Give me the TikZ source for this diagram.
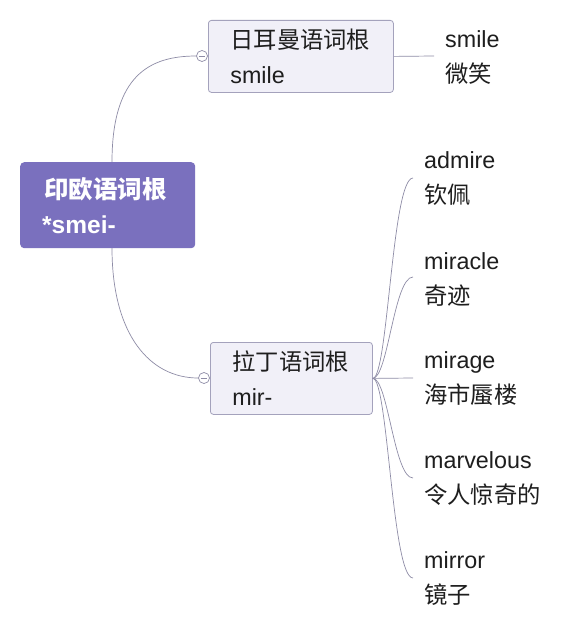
\documentclass[tikz,border=0pt]{standalone}
\usepackage{fontspec}
\setmainfont{Liberation Sans}
\newfontfamily\cjk{Noto Sans CJK SC}
\definecolor{rootfill}{HTML}{7A70BE}
\definecolor{boxfill}{HTML}{F1F0F8}
\definecolor{boxline}{HTML}{A4A2BC}
\definecolor{linkc}{HTML}{8E8CA6}
\definecolor{txt}{HTML}{1E1E1E}
\begin{document}
\begin{tikzpicture}[x=1pt,y=-1pt,
  every node/.style={font=\fontsize{23.3}{35}\selectfont, text=txt},
  rootbox/.style={fill=rootfill, rounded corners=4pt, text=white, align=left, inner ysep=0pt, minimum height=86pt, font=\fontsize{24.5}{36}\selectfont\bfseries},
  subbox/.style={fill=boxfill, draw=boxline, line width=0.8pt, rounded corners=3pt, align=left, inner ysep=0pt, minimum height=72pt},
  leaf/.style={anchor=west, align=left, inner sep=0pt},
  link/.style={draw=linkc, line width=0.7pt},
  knob/.style={circle, draw=linkc, fill=white, line width=0.7pt, minimum size=11pt, inner sep=0pt}
]
\useasboundingbox[fill=white] (0,0) rectangle (574,634);

\node[rootbox, text width=127pt, inner xsep=24pt, anchor=north west] (root) at (20,162) {{\cjk 印欧语词根}\\[-1pt]\hspace*{-2pt}*smei-};

\node[subbox, text width=141pt, inner xsep=22pt, anchor=north west] (ger) at (208,20) {{\cjk 日耳曼语词根}\\smile};
\node[subbox, text width=118pt, inner xsep=22pt, anchor=north west] (lat) at (210,342) {{\cjk 拉丁语词根}\\mir-};

\node[knob] (kg) at (202,56) {};
\node[knob] (kl) at (204,378) {};
\draw[linkc, line width=0.7pt] ([xshift=2.5pt]kg.west) -- ([xshift=-2.5pt]kg.east);
\draw[linkc, line width=0.7pt] ([xshift=2.5pt]kl.west) -- ([xshift=-2.5pt]kl.east);

\coordinate (rt) at (112,162);
\coordinate (rb) at (112,248);
\draw[link] (rt) .. controls (112,75) and (150,56) .. (kg.west);
\draw[link] (rb) .. controls (112,335) and (150,378) .. (kl.west);

% German leaf
\coordinate (gend) at (434,56);
\draw[link] (ger.east) -- (gend);
\node[leaf] (smile) at (445,58) {smile\\{\cjk 微笑}};

% Latin leaves
\coordinate (e1) at (413,178);
\coordinate (e2) at (413,277);
\coordinate (e3) at (413,378);
\coordinate (e4) at (413,478);
\coordinate (e5) at (413,578);
\draw[link] (lat.east) .. controls (388,378) and (392,178) .. (e1);
\draw[link] (lat.east) .. controls (388,378) and (394,277) .. (e2);
\draw[link] (lat.east) -- (e3);
\draw[link] (lat.east) .. controls (388,378) and (394,478) .. (e4);
\draw[link] (lat.east) .. controls (388,378) and (392,578) .. (e5);

\node[leaf] (admire) at (424,179) {admire\\{\cjk 钦佩}};
\node[leaf] (miracle) at (424,279) {miracle\\{\cjk 奇迹}};
\node[leaf] (mirage) at (424,379) {mirage\\{\cjk 海市蜃楼}};
\node[leaf] (marvel) at (424,479) {marvelous\\{\cjk 令人惊奇的}};
\node[leaf] (mirror) at (424,579) {mirror\\{\cjk 镜子}};
\end{tikzpicture}
\end{document}
